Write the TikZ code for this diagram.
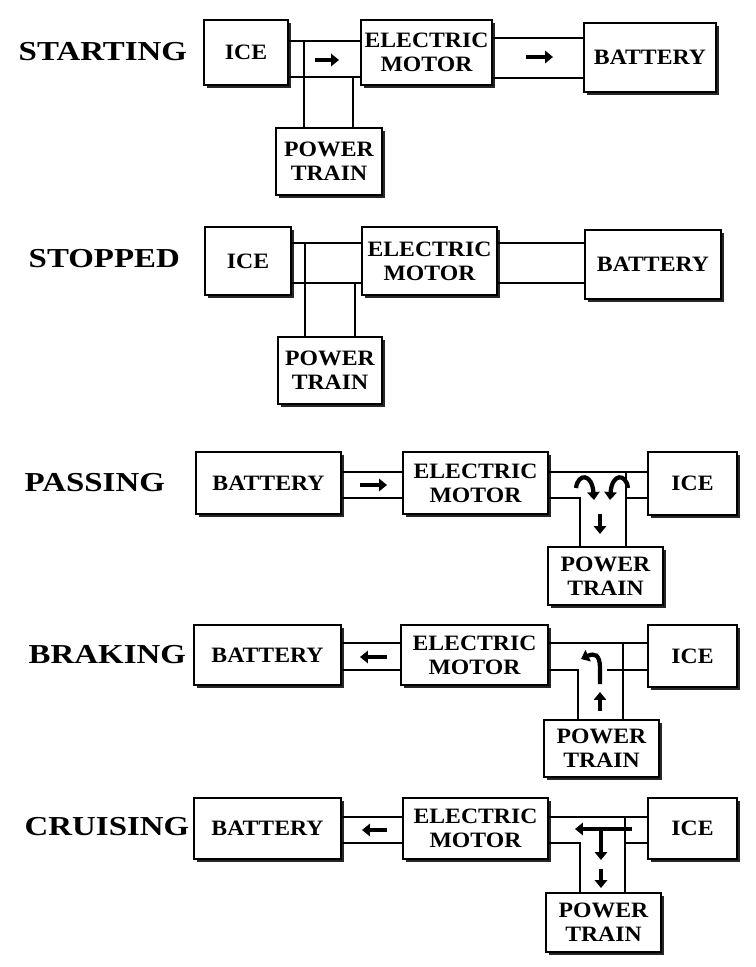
\documentclass[tikz,border=0pt]{standalone}
\usepackage{fontspec}
\setmainfont{Liberation Serif}
\newfontfamily\lblfont[FakeStretch=1.2]{Liberation Serif}
\newfontfamily\boxfont[FakeStretch=1.08]{Liberation Serif}
\usetikzlibrary{arrows.meta, shadows, calc}
\tikzset{
  every picture/.style={line width=1pt},
  box/.style={draw, fill=white, line width=1.2pt, align=center, inner sep=0pt,
    font=\boxfont\bfseries\fontsize{12.5}{13.5}\selectfont,
    drop shadow={shadow xshift=1.7pt, shadow yshift=-1.7pt, fill=black, opacity=0.85}},
  sz/.style 2 args={minimum width=#1*0.02cm, minimum height=#2*0.02cm},
  pipe/.style={line width=1pt},
  flow/.style={line width=2.4pt, -{Triangle[length=4.5pt, width=7pt]}},
  title/.style={anchor=west, font=\lblfont\bfseries\fontsize{15.6}{18}\selectfont},
}
\begin{document}
\begin{tikzpicture}[x=0.02cm, y=-0.02cm]
  \fill[white] (0,0) rectangle (755,967);
  \useasboundingbox (0,0) rectangle (755,967);
  % starting
  \node[title] (lstart) at (12,52) {STARTING};
  \node[box, sz={84}{65}] (ice1) at (246,52.5) {ICE};
  \node[box, sz={131}{65}] (em1) at (426.5,52.5) {ELECTRIC\\MOTOR};
  \node[box, sz={132}{69}] (bat1) at (650,57.5) {BATTERY};
  \node[box, sz={106}{67}] (pt1) at (329,161.5) {POWER\\TRAIN};
  \draw[pipe] (ice1.east |- 0,41) -- (em1.west |- 0,41);
  \draw[pipe] (ice1.east |- 0,77) -- (em1.west |- 0,77);
  \draw[pipe] (pt1.north -| 304,0) |- (ice1.east |- 0,41);
  \draw[pipe] (pt1.north -| 353,0) |- (em1.west |- 0,77);
  \draw[pipe] (em1.east |- 0,38) -- (bat1.west |- 0,38);
  \draw[pipe] (em1.east |- 0,78) -- (bat1.west |- 0,78);
  \coordinate (a1) at (315,60);
  \coordinate (a2) at (526,57);
  \draw[flow] (a1) -- ++(24,0);
  \draw[flow] (a2) -- ++(27,0);
  % stopped
  \node[title] (lstop) at (22,259) {STOPPED};
  \node[box, sz={86}{68}] (ice2) at (248,261) {ICE};
  \node[box, sz={135}{68}] (em2) at (429.5,261) {ELECTRIC\\MOTOR};
  \node[box, sz={136}{69}] (bat2) at (653,264.5) {BATTERY};
  \node[box, sz={104}{67}] (pt2) at (330,370.5) {POWER\\TRAIN};
  \draw[pipe] (ice2.east |- 0,243) -- (em2.west |- 0,243);
  \draw[pipe] (ice2.east |- 0,283) -- (em2.west |- 0,283);
  \draw[pipe] (pt2.north -| 305,0) |- (ice2.east |- 0,243);
  \draw[pipe] (pt2.north -| 355,0) |- (em2.west |- 0,283);
  \draw[pipe] (em2.east |- 0,243) -- (bat2.west |- 0,243);
  \draw[pipe] (em2.east |- 0,283) -- (bat2.west |- 0,283);
  % passing
  \node[title] (lpass) at (18,483) {PASSING};
  \node[box, sz={145}{62}] (bat3) at (268.5,483) {BATTERY};
  \node[box, sz={145}{62}] (em3) at (475.5,483) {ELECTRIC\\MOTOR};
  \node[box, sz={89}{63}] (ice3) at (692.5,483.5) {ICE};
  \node[box, sz={115}{58}] (pt3) at (605.5,576) {POWER\\TRAIN};
  \draw[pipe] (bat3.east |- 0,472) -- (em3.west |- 0,472);
  \draw[pipe] (bat3.east |- 0,498) -- (em3.west |- 0,498);
  \draw[pipe] (em3.east |- 0,472) -- (ice3.west |- 0,472);
  \draw[pipe] (em3.east |- 0,498) -| (pt3.north -| 580,0);
  \draw[pipe] (ice3.west |- 0,498) -- (626,498);
  \draw[pipe] (pt3.north -| 626,0) |- (ice3.west |- 0,472);
  \coordinate (a3) at (360,485);
  \draw[flow] (a3) -- ++(27,0);
  \draw[flow] (576,488) .. controls (578,473) and (592,473) .. (594,500);
  \draw[flow] (628,488) .. controls (626,473) and (612,473) .. (610,500);
  \draw[flow] (600,514) -- (600,534);
  % braking
  \node[title] (lbrake) at (22,655) {BRAKING};
  \node[box, sz={147}{60}] (bat4) at (267.5,655) {BATTERY};
  \node[box, sz={147}{60}] (em4) at (474.5,655) {ELECTRIC\\MOTOR};
  \node[box, sz={89}{62}] (ice4) at (692.5,656) {ICE};
  \node[box, sz={115}{57}] (pt4) at (601.5,748.5) {POWER\\TRAIN};
  \draw[pipe] (bat4.east |- 0,643) -- (em4.west |- 0,643);
  \draw[pipe] (bat4.east |- 0,670) -- (em4.west |- 0,670);
  \draw[pipe] (em4.east |- 0,643) -- (ice4.west |- 0,643);
  \draw[pipe] (em4.east |- 0,670) -| (pt4.north -| 578,0);
  \draw[pipe] (ice4.west |- 0,670) -- (607,670);
  \draw[pipe] (pt4.north -| 623,0) |- (ice4.west |- 0,643);
  \coordinate (a4) at (387,657);
  \draw[flow] (a4) -- ++(-27,0);
  \draw[flow] (600,684) -- (600,668) .. controls (600,654) and (594,653) .. (581,659);
  \draw[flow] (600,711) -- (600,692);
  % cruising
  \node[title] (lcruise) at (18,827) {CRUISING};
  \node[box, sz={147}{61}] (bat5) at (267.5,828.5) {BATTERY};
  \node[box, sz={145}{61}] (em5) at (475.5,828.5) {ELECTRIC\\MOTOR};
  \node[box, sz={89}{61}] (ice5) at (692.5,828.5) {ICE};
  \node[box, sz={115}{59}] (pt5) at (603.5,922.5) {POWER\\TRAIN};
  \draw[pipe] (bat5.east |- 0,817) -- (em5.west |- 0,817);
  \draw[pipe] (bat5.east |- 0,843) -- (em5.west |- 0,843);
  \draw[pipe] (em5.east |- 0,817) -- (ice5.west |- 0,817);
  \draw[pipe] (em5.east |- 0,843) -| (pt5.north -| 580,0);
  \draw[pipe] (ice5.west |- 0,843) -- (625,843);
  \draw[pipe] (pt5.north -| 625,0) |- (ice5.west |- 0,817);
  \coordinate (a5) at (387,830);
  \draw[flow] (a5) -- ++(-25,0);
  \draw[flow] (632,829) -- (575,829);
  \draw[flow] (601,829) -- (601,860);
  \draw[flow] (601,869) -- (601,888);
\end{tikzpicture}
\end{document}
